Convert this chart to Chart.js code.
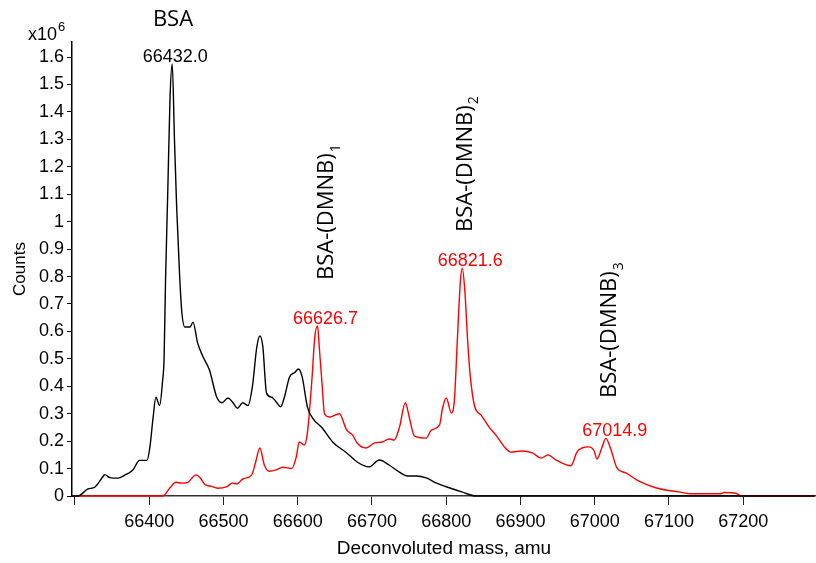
<!DOCTYPE html>
<html>
<head>
<meta charset="utf-8">
<script src="https://cdn.jsdelivr.net/npm/chart.js@4.4.1/dist/chart.umd.min.js"></script>
<style>
  body { margin: 0; background: #fff; }
  #wrap { width: 816px; height: 563px; position: relative; }
</style>
</head>
<body>
<div id="wrap"><canvas id="chart"></canvas></div>
<script>
// ==== DATA (counts in units of 1e6) ====
const massBSA = [66296, 66304, 66317, 66327, 66338, 66340, 66347, 66358, 66367, 66378, 66387, 66397,
  66401, 66405, 66409, 66414, 66418, 66420, 66422, 66425, 66428, 66431, 66434, 66437, 66441, 66444,
  66448, 66455, 66459, 66465, 66472, 66481, 66491, 66498, 66506, 66512, 66519, 66526, 66533, 66539,
  66545, 66549, 66553, 66558, 66565, 66571, 66577, 66582, 66589, 66596, 66601, 66606, 66613, 66620,
  66633, 66647, 66666, 66680, 66696, 66710, 66723, 66737, 66748, 66760, 66773, 66787, 66804, 66821,
  66840, 67296];
const countsBSA = [0, 0, 0.025, 0.033, 0.072, 0.078, 0.067, 0.065, 0.076, 0.095, 0.13, 0.13,
  0.18, 0.28, 0.36, 0.33, 0.42, 0.5, 0.79, 1.11, 1.45, 1.575, 1.3, 1.05, 0.8, 0.667,
  0.616, 0.616, 0.634, 0.56, 0.51, 0.46, 0.36, 0.34, 0.357, 0.343, 0.32, 0.34, 0.33, 0.4,
  0.545, 0.583, 0.545, 0.375, 0.36, 0.343, 0.325, 0.36, 0.434, 0.45, 0.463, 0.434, 0.325, 0.284,
  0.248, 0.197, 0.157, 0.124, 0.106, 0.131, 0.113, 0.087, 0.073, 0.073, 0.066, 0.047, 0.03, 0.015,
  0, 0];

const massDMNB = [66296, 66418, 66428, 66436, 66444, 66452, 66463, 66468, 66475, 66484, 66492, 66504,
  66512, 66518, 66526, 66538, 66543, 66549, 66555, 66562, 66571, 66580, 66592, 66598, 66602, 66609,
  66613, 66619, 66623, 66626.7, 66629, 66633, 66636, 66643, 66656, 66666, 66674, 66680, 66692, 66703,
  66714, 66723, 66730, 66737, 66745, 66750, 66757, 66773, 66780, 66791, 66795, 66800, 66807, 66811,
  66815, 66819, 66821.6, 66825, 66829, 66832, 66838, 66847, 66858, 66867, 66878, 66887, 66902, 66916,
  66928, 66937, 66948, 66968, 66976, 66983, 66992, 66999, 67003, 67010, 67014.9, 67022, 67030, 67042,
  67057, 67082, 67113, 67131, 67170, 67174, 67190, 67198, 67296];
const countsDMNB = [0, 0, 0.03, 0.05, 0.047, 0.05, 0.077, 0.068, 0.042, 0.035, 0.028, 0.033,
  0.047, 0.044, 0.062, 0.077, 0.12, 0.175, 0.113, 0.09, 0.095, 0.105, 0.1, 0.142, 0.197, 0.186,
  0.23, 0.42, 0.58, 0.62, 0.543, 0.4, 0.3, 0.288, 0.3, 0.24, 0.222, 0.193, 0.175, 0.193,
  0.197, 0.208, 0.204, 0.25, 0.34, 0.29, 0.219, 0.211, 0.24, 0.259, 0.32, 0.357, 0.302, 0.35,
  0.57, 0.78, 0.83, 0.75, 0.56, 0.448, 0.33, 0.295, 0.25, 0.222, 0.18, 0.16, 0.164, 0.157,
  0.138, 0.15, 0.131, 0.11, 0.16, 0.175, 0.179, 0.165, 0.135, 0.179, 0.21, 0.168, 0.102, 0.084,
  0.058, 0.03, 0.015, 0.008, 0.008, 0.013, 0.01, 0, 0];

const xTicks = [66300, 66400, 66500, 66600, 66700, 66800, 66900, 67000, 67100, 67200];
const yTicks = [0, 0.1, 0.2, 0.3, 0.4, 0.5, 0.6, 0.7, 0.8, 0.9, 1, 1.1, 1.2, 1.3, 1.4, 1.5, 1.6];

// peak labels
const peakText = ["66432.0", "66626.7", "66821.6", "67014.9"];
const peakMass = [66431, 66626.7, 66821.6, 67014.9];
const peakHeight = [1.575, 0.62, 0.83, 0.21];
const peakColor = ["#000000", "#ff0000", "#ff0000", "#ff0000"];

// species labels (rotated)
const speciesText = ["BSA-(DMNB)", "BSA-(DMNB)", "BSA-(DMNB)"];
const speciesSub = ["1", "2", "3"];
const speciesMass = [66626.7, 66821.6, 67014.9];

// ==== layout / style (pixels) ====
const peakDx = [3, 8, 8, 9];
const speciesDx = [9, 3, 4];
const speciesBottom = [280, 232, 398];

const toPoints = (xs, ys) => xs.map((x, i) => ({ x, y: ys[i] }));

const annotations = {
  id: "annotations",
  afterDraw(chart) {
    const ctx = chart.ctx;
    const xs = chart.scales.x;
    const ys = chart.scales.y;
    ctx.save();

    // multiplier
    ctx.fillStyle = "#000";
    ctx.textBaseline = "alphabetic";
    ctx.textAlign = "left";
    ctx.font = "18px 'Liberation Sans', Arial, sans-serif";
    ctx.fillText("x10", 28, 40);
    ctx.font = "13px 'Liberation Sans', Arial, sans-serif";
    ctx.fillText("6", 58, 31);

    // BSA
    ctx.font = "22px 'Open Sans', sans-serif";
    ctx.textAlign = "center";
    ctx.fillText("BSA", 173, 26);

    // peak mass labels
    ctx.font = "18px 'Liberation Sans', Arial, sans-serif";
    peakText.forEach((t, i) => {
      ctx.fillStyle = peakColor[i];
      const px = xs.getPixelForValue(peakMass[i]) + peakDx[i];
      const py = ys.getPixelForValue(peakHeight[i]);
      ctx.fillText(t, px, py - 2);
    });

    // rotated species labels
    ctx.fillStyle = "#000";
    speciesText.forEach((t, i) => {
      const px = xs.getPixelForValue(speciesMass[i]) + speciesDx[i];
      ctx.save();
      ctx.translate(px, speciesBottom[i]);
      ctx.rotate(-Math.PI / 2);
      ctx.textAlign = "left";
      ctx.textBaseline = "middle";
      ctx.font = "22px 'Open Sans', sans-serif";
      ctx.fillText(t, 0, 0);
      const w = ctx.measureText(t).width;
      ctx.font = "14px 'Open Sans', sans-serif";
      ctx.fillText(speciesSub[i], w + 1, 9);
      ctx.restore();
    });

    ctx.restore();
  }
};

new Chart(document.getElementById("chart"), {
  type: "line",
  data: {
    datasets: [
      {
        label: "BSA",
        data: toPoints(massBSA, countsBSA),
        borderColor: "#000000",
        borderWidth: 1.4,
        pointRadius: 0,
        cubicInterpolationMode: "monotone",
        clip: 4,
        fill: false
      },
      {
        label: "BSA-(DMNB)",
        data: toPoints(massDMNB, countsDMNB),
        borderColor: "#ff0000",
        borderWidth: 1.4,
        pointRadius: 0,
        cubicInterpolationMode: "monotone",
        clip: 4,
        fill: false
      }
    ]
  },
  options: {
    responsive: true,
    maintainAspectRatio: false,
    animation: false,
    layout: { padding: { top: 42, right: 0, left: 0, bottom: 0 } },
    plugins: {
      legend: { display: false },
      tooltip: { enabled: false }
    },
    scales: {
      x: {
        type: "linear",
        min: 66296,
        max: 67298,
        afterBuildTicks: s => { s.ticks = xTicks.map(v => ({ value: v })); },
        afterFit: s => { s.height = 67; },
        grid: { drawOnChartArea: false, drawTicks: true, tickLength: 9, color: "#222" },
        border: { display: true, color: "#333", width: 1.5 },
        ticks: {
          color: "#000",
          font: { family: "'Liberation Sans', Arial, sans-serif", size: 18 },
          padding: 6,
          maxRotation: 0,
          callback: v => (v === 66300 ? "" : String(v))
        },
        title: {
          display: true,
          text: "Deconvoluted mass, amu",
          color: "#000",
          font: { family: "'Liberation Sans', Arial, sans-serif", size: 19 },
          padding: { top: 0, bottom: 3 }
        }
      },
      y: {
        min: 0,
        max: 1.655,
        afterBuildTicks: s => { s.ticks = yTicks.map(v => ({ value: v })); },
        afterFit: s => { s.width = 72; },
        grid: { drawOnChartArea: false, drawTicks: true, tickLength: 5, color: "#000" },
        border: { display: true, color: "#000", width: 1.5 },
        ticks: {
          color: "#000",
          font: { family: "'Liberation Sans', Arial, sans-serif", size: 18 },
          padding: 3,
          callback: v => String(Math.round(v * 10) / 10)
        },
        title: {
          display: true,
          text: "Counts",
          color: "#000",
          font: { family: "'Liberation Sans', Arial, sans-serif", size: 17 },
          padding: { top: 10, bottom: 0 }
        }
      }
    }
  },
  plugins: [annotations]
});
</script>
</body>
</html>
